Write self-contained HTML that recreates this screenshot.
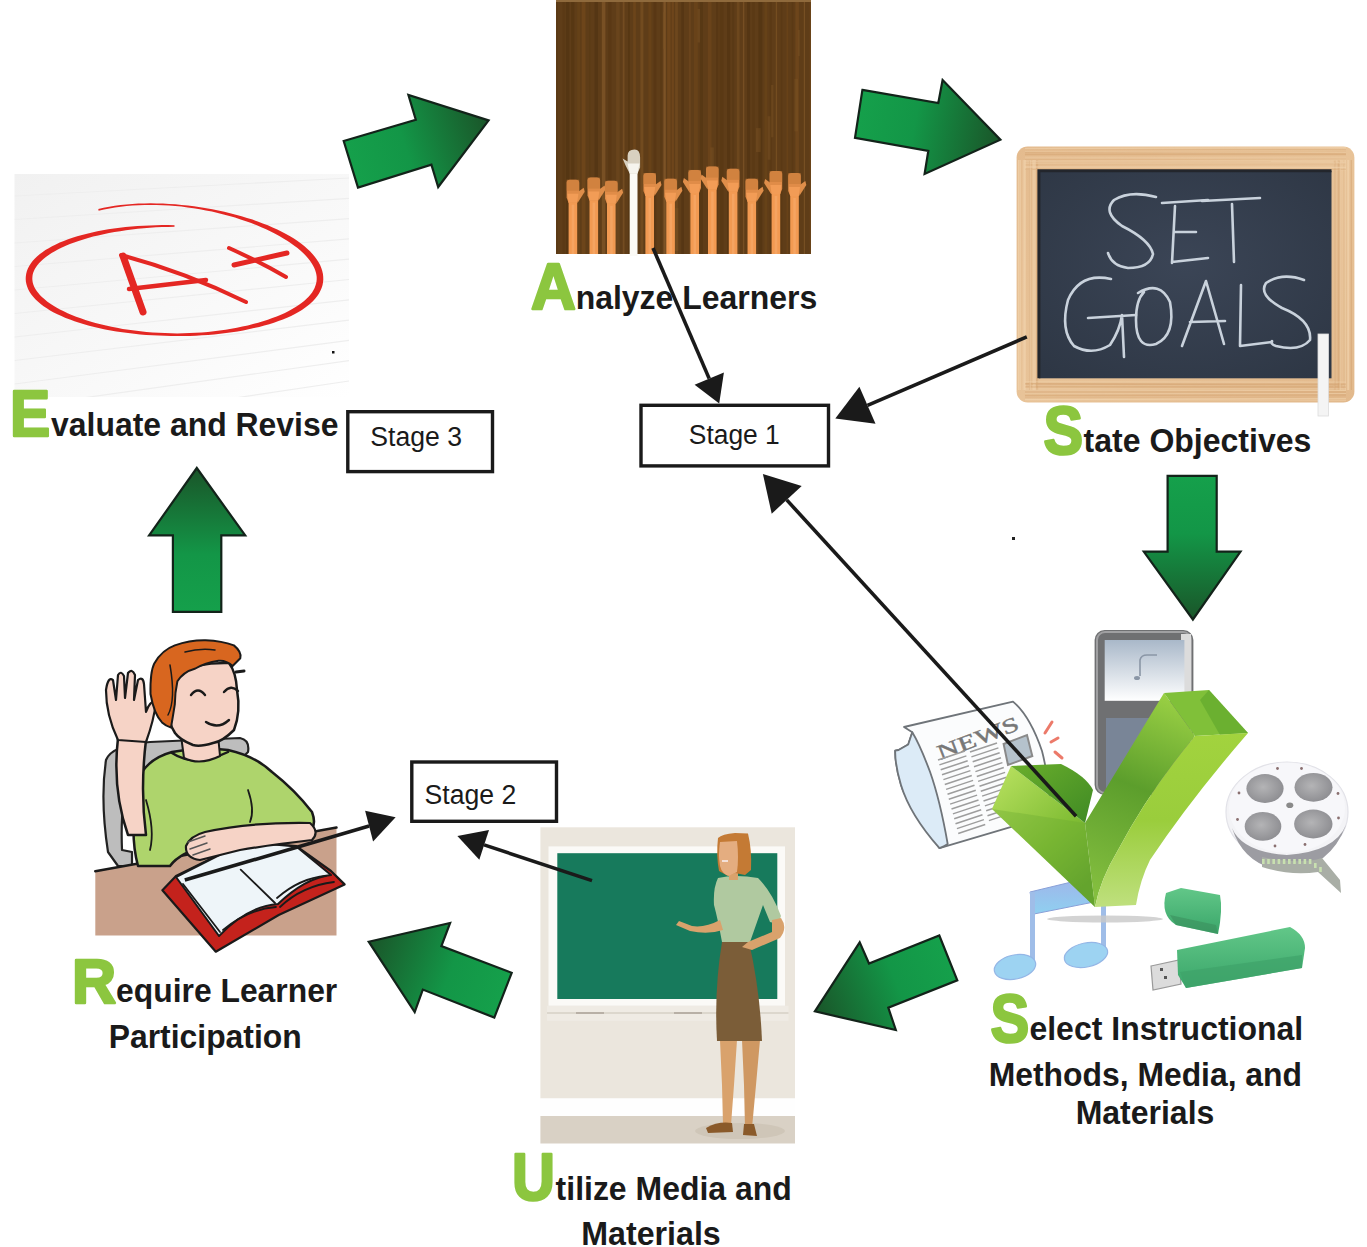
<!DOCTYPE html>
<html><head><meta charset="utf-8"><title>ASSURE Model</title>
<style>
html,body{margin:0;padding:0;background:#fff;}
body{width:1367px;height:1247px;overflow:hidden;position:relative;font-family:"Liberation Sans",sans-serif;}
svg{position:absolute;left:0;top:0;}
</style></head><body>
<svg width="1367" height="1247" viewBox="0 0 1367 1247">
<defs>

<linearGradient id="g1" gradientUnits="userSpaceOnUse" x1="350" y1="165" x2="488" y2="120"><stop offset="0" stop-color="#15a04b"/><stop offset="0.4" stop-color="#139647"/><stop offset="1" stop-color="#1a5529"/></linearGradient>
<linearGradient id="g2" gradientUnits="userSpaceOnUse" x1="858" y1="114" x2="1000" y2="140"><stop offset="0" stop-color="#15a04b"/><stop offset="0.4" stop-color="#139647"/><stop offset="1" stop-color="#1a5529"/></linearGradient>
<linearGradient id="g3" gradientUnits="userSpaceOnUse" x1="1192" y1="476" x2="1192" y2="620"><stop offset="0" stop-color="#15a04b"/><stop offset="0.4" stop-color="#139647"/><stop offset="1" stop-color="#1a5529"/></linearGradient>
<linearGradient id="g4" gradientUnits="userSpaceOnUse" x1="948" y1="958" x2="815" y2="1011"><stop offset="0" stop-color="#15a04b"/><stop offset="0.4" stop-color="#139647"/><stop offset="1" stop-color="#1a5529"/></linearGradient>
<linearGradient id="g5" gradientUnits="userSpaceOnUse" x1="503" y1="995" x2="369" y2="942"><stop offset="0" stop-color="#15a04b"/><stop offset="0.4" stop-color="#139647"/><stop offset="1" stop-color="#1a5529"/></linearGradient>
<linearGradient id="g6" gradientUnits="userSpaceOnUse" x1="197" y1="612" x2="197" y2="468"><stop offset="0" stop-color="#15a04b"/><stop offset="0.4" stop-color="#139647"/><stop offset="1" stop-color="#1a5529"/></linearGradient>
<linearGradient id="paper" x1="0" y1="0" x2="1" y2="1"><stop offset="0" stop-color="#f1f1f1"/><stop offset="0.6" stop-color="#f9f9f9"/><stop offset="1" stop-color="#ffffff"/></linearGradient>
<linearGradient id="wood" x1="0" y1="0" x2="1" y2="1"><stop offset="0" stop-color="#e4bb8e"/><stop offset="0.5" stop-color="#e8c398"/><stop offset="1" stop-color="#e2b98c"/></linearGradient>
<radialGradient id="slate" cx="0.5" cy="0.45" r="0.7"><stop offset="0" stop-color="#3b4556"/><stop offset="1" stop-color="#2e3745"/></radialGradient>
<linearGradient id="chkL" gradientUnits="userSpaceOnUse" x1="1000" y1="775" x2="1090" y2="880"><stop offset="0" stop-color="#b4de5c"/><stop offset="0.6" stop-color="#80bd34"/><stop offset="1" stop-color="#62a22c"/></linearGradient>
<linearGradient id="chkR" x1="0" y1="0" x2="0" y2="1"><stop offset="0" stop-color="#a2d33e"/><stop offset="0.5" stop-color="#9acd3c"/><stop offset="1" stop-color="#bfe07e"/></linearGradient>
<linearGradient id="chkD" x1="0" y1="0" x2="1" y2="1"><stop offset="0" stop-color="#6aae2c"/><stop offset="1" stop-color="#3f8a24"/></linearGradient>
<linearGradient id="ipodScr" x1="0" y1="0" x2="0" y2="1"><stop offset="0" stop-color="#a9b8c9"/><stop offset="1" stop-color="#ffffff"/></linearGradient>
<linearGradient id="usb" x1="0" y1="0" x2="0" y2="1"><stop offset="0" stop-color="#62c788"/><stop offset="1" stop-color="#3aa66a"/></linearGradient>
<linearGradient id="note" x1="0" y1="0" x2="0" y2="1"><stop offset="0" stop-color="#9fb5ea"/><stop offset="1" stop-color="#8fd0f0"/></linearGradient>
<radialGradient id="reelHole" cx="0.45" cy="0.45" r="0.6"><stop offset="0" stop-color="#b4b4b6"/><stop offset="1" stop-color="#8c8c90"/></radialGradient>
</defs>
<rect width="1367" height="1247" fill="#fff"/>

<g id="paper">
<clipPath id="pclip"><rect x="14.5" y="174" width="334.5" height="223"/></clipPath>
<rect x="14.5" y="174" width="334.5" height="223" fill="url(#paper)"/>
<g clip-path="url(#pclip)">
<line x1="14.5" y1="196.0" x2="349" y2="178.0" stroke="#eeeeee" stroke-width="1.2"/>
<line x1="14.5" y1="219.5" x2="349" y2="198.3" stroke="#eeeeee" stroke-width="1.2"/>
<line x1="14.5" y1="243.0" x2="349" y2="218.6" stroke="#eeeeee" stroke-width="1.2"/>
<line x1="14.5" y1="266.5" x2="349" y2="238.9" stroke="#eeeeee" stroke-width="1.2"/>
<line x1="14.5" y1="290.0" x2="349" y2="259.2" stroke="#eeeeee" stroke-width="1.2"/>
<line x1="14.5" y1="313.5" x2="349" y2="279.5" stroke="#eeeeee" stroke-width="1.2"/>
<line x1="14.5" y1="337.0" x2="349" y2="299.8" stroke="#eeeeee" stroke-width="1.2"/>
<line x1="14.5" y1="360.5" x2="349" y2="320.1" stroke="#eeeeee" stroke-width="1.2"/>
<line x1="14.5" y1="384.0" x2="349" y2="340.4" stroke="#eeeeee" stroke-width="1.2"/>
<line x1="14.5" y1="407.5" x2="349" y2="360.7" stroke="#eeeeee" stroke-width="1.2"/>
<line x1="14.5" y1="431.0" x2="349" y2="381.0" stroke="#eeeeee" stroke-width="1.2"/>
</g>
<polygon points="174.5,225.2 168.3,225.1 162.1,225.1 155.9,225.2 149.7,225.4 143.6,225.7 137.5,226.0 131.5,226.5 125.5,227.0 119.7,227.7 113.9,228.4 108.3,229.3 102.8,230.3 97.4,231.3 92.1,232.4 87.0,233.7 82.0,235.0 77.2,236.3 72.5,237.8 68.1,239.3 63.8,240.9 59.7,242.6 55.8,244.4 52.1,246.2 48.7,248.2 45.4,250.1 42.4,252.2 39.6,254.3 37.0,256.5 34.7,258.8 32.6,261.1 30.8,263.5 29.2,266.0 27.9,268.5 26.9,271.1 26.2,273.7 25.8,276.4 25.7,279.1 25.9,281.8 26.5,284.5 27.3,287.1 28.4,289.7 29.8,292.2 31.5,294.7 33.4,297.1 35.6,299.5 38.1,301.8 40.7,304.0 43.6,306.2 46.8,308.3 50.1,310.4 53.7,312.4 57.4,314.3 61.4,316.1 65.6,317.9 70.0,319.6 74.5,321.2 79.2,322.8 84.1,324.3 89.1,325.7 94.3,327.0 99.7,328.2 105.1,329.4 110.7,330.4 116.4,331.4 122.2,332.3 128.1,333.1 134.1,333.8 140.1,334.4 146.2,334.9 152.4,335.3 158.5,335.6 164.8,335.8 171.0,335.9 177.2,336.0 183.5,336.0 189.7,335.9 195.9,335.7 202.0,335.3 208.1,334.9 214.2,334.5 220.2,333.8 226.1,333.1 231.9,332.3 237.6,331.4 243.2,330.4 248.6,329.3 254.0,328.1 259.2,326.9 264.3,325.6 269.2,324.2 273.9,322.7 278.5,321.1 282.9,319.4 287.1,317.7 291.1,315.9 294.9,314.0 298.5,312.0 301.9,310.0 305.0,307.8 308.0,305.6 310.7,303.3 313.1,301.0 315.3,298.5 317.3,296.0 319.0,293.4 320.4,290.8 321.6,288.0 322.5,285.2 323.0,282.4 323.3,279.5 323.2,276.6 322.9,273.7 322.2,270.8 321.3,267.9 320.1,265.0 318.6,262.2 316.8,259.4 314.8,256.7 312.5,254.0 310.0,251.3 307.2,248.7 304.2,246.1 301.0,243.6 297.6,241.1 293.9,238.6 290.1,236.3 286.0,233.9 281.7,231.7 277.3,229.5 272.6,227.4 267.8,225.3 262.8,223.4 257.7,221.5 252.5,219.6 247.0,217.9 241.5,216.2 235.9,214.7 230.1,213.2 224.3,211.8 218.3,210.5 212.3,209.3 206.3,208.2 200.1,207.2 194.0,206.3 187.8,205.5 181.6,204.9 175.3,204.3 169.1,203.9 162.9,203.6 156.7,203.4 150.5,203.3 144.4,203.4 138.3,203.6 132.3,203.9 126.4,204.4 120.5,205.1 114.8,205.8 109.2,206.8 103.6,207.8 98.3,209.1 98.6,210.7 104.0,209.5 109.5,208.4 115.0,207.5 120.7,206.7 126.5,206.1 132.4,205.6 138.4,205.2 144.4,205.0 150.5,204.9 156.6,205.0 162.8,205.2 169.0,205.5 175.2,206.0 181.4,206.6 187.6,207.4 193.7,208.2 199.8,209.2 205.9,210.4 211.9,211.6 217.8,212.9 223.6,214.4 229.4,216.0 235.0,217.6 240.6,219.4 246.0,221.2 251.2,223.1 256.3,225.1 261.3,227.2 266.1,229.3 270.7,231.6 275.1,233.8 279.3,236.1 283.4,238.5 287.2,240.8 290.9,243.2 294.3,245.7 297.5,248.1 300.4,250.6 303.1,253.1 305.6,255.6 307.8,258.1 309.8,260.5 311.5,263.0 313.0,265.4 314.2,267.8 315.2,270.2 315.9,272.5 316.4,274.8 316.7,277.0 316.7,279.3 316.5,281.5 316.1,283.6 315.4,285.8 314.6,288.0 313.4,290.2 312.1,292.4 310.5,294.5 308.6,296.7 306.5,298.8 304.1,301.0 301.5,303.0 298.7,305.1 295.6,307.1 292.2,309.1 288.7,311.0 284.9,312.9 280.9,314.7 276.7,316.4 272.3,318.1 267.8,319.7 263.0,321.2 258.1,322.7 253.0,324.1 247.8,325.4 242.4,326.6 236.9,327.7 231.3,328.7 225.6,329.7 219.7,330.5 213.8,331.3 207.9,331.9 201.8,332.4 195.7,332.8 189.6,333.1 183.4,333.3 177.2,333.4 171.0,333.3 164.9,333.1 158.7,332.8 152.6,332.4 146.5,331.9 140.4,331.3 134.5,330.6 128.6,329.8 122.7,328.9 117.0,327.8 111.4,326.7 106.0,325.6 100.6,324.3 95.4,322.9 90.3,321.5 85.4,319.9 80.7,318.3 76.1,316.7 71.8,315.0 67.6,313.2 63.7,311.3 59.9,309.4 56.4,307.5 53.1,305.5 50.0,303.5 47.1,301.4 44.6,299.3 42.2,297.3 40.1,295.2 38.3,293.1 36.7,291.0 35.4,288.9 34.3,286.9 33.4,284.8 32.8,282.8 32.5,280.9 32.3,278.9 32.4,277.0 32.6,275.0 33.1,273.1 33.9,271.1 34.8,269.1 36.1,267.1 37.5,265.1 39.2,263.0 41.2,261.0 43.4,259.0 45.9,257.0 48.7,255.0 51.6,253.1 54.8,251.2 58.3,249.3 61.9,247.5 65.8,245.8 69.9,244.1 74.2,242.4 78.6,240.9 83.3,239.4 88.1,238.0 93.1,236.6 98.2,235.4 103.5,234.2 109.0,233.1 114.5,232.1 120.2,231.2 126.0,230.3 131.8,229.5 137.7,228.8 143.8,228.2 149.8,227.7 155.9,227.3 162.1,227.0 168.3,226.9 174.5,226.8" fill="#e42723"/>
<g stroke="#e42723" stroke-linecap="round" fill="none">
<path d="M123 256 L143 312" stroke-width="7"/>
<path d="M121 255 Q185 272 246 302" stroke-width="4"/>
<path d="M129 289 L206 280" stroke-width="4.5"/>
<path d="M234 265 L287 253" stroke-width="5"/>
<path d="M229 248 Q260 262 286 277" stroke-width="4"/>
</g>
<rect x="332" y="351" width="2.5" height="2.5" fill="#111"/>
</g>
<g id="hands"><rect x="556" y="0" width="255" height="254" fill="#5f3d18"/>
<rect x="556.0" y="0" width="1.7" height="254" fill="#553512" opacity="0.41"/>
<rect x="562.4" y="0" width="2.4" height="254" fill="#553512" opacity="0.38"/>
<rect x="565.9" y="0" width="3.5" height="254" fill="#4f3211" opacity="0.60"/>
<rect x="571.1" y="0" width="3.2" height="254" fill="#553512" opacity="0.73"/>
<rect x="577.2" y="0" width="2.9" height="254" fill="#6d4619" opacity="0.45"/>
<rect x="581.7" y="0" width="3.8" height="254" fill="#74491c" opacity="0.68"/>
<rect x="589.2" y="0" width="1.2" height="254" fill="#553512" opacity="0.37"/>
<rect x="594.5" y="0" width="3.5" height="254" fill="#4f3211" opacity="0.56"/>
<rect x="601.8" y="0" width="3.6" height="254" fill="#83592a" opacity="0.70"/>
<rect x="608.2" y="0" width="3.2" height="254" fill="#553512" opacity="0.55"/>
<rect x="616.1" y="0" width="3.6" height="254" fill="#7a5122" opacity="0.37"/>
<rect x="622.7" y="0" width="1.8" height="254" fill="#83592a" opacity="0.55"/>
<rect x="628.0" y="0" width="1.9" height="254" fill="#553512" opacity="0.73"/>
<rect x="633.2" y="0" width="2.6" height="254" fill="#74491c" opacity="0.61"/>
<rect x="640.4" y="0" width="3.0" height="254" fill="#7a5122" opacity="0.74"/>
<rect x="648.4" y="0" width="3.0" height="254" fill="#6d4619" opacity="0.66"/>
<rect x="653.7" y="0" width="2.6" height="254" fill="#553512" opacity="0.61"/>
<rect x="660.2" y="0" width="1.6" height="254" fill="#553512" opacity="0.47"/>
<rect x="663.4" y="0" width="2.4" height="254" fill="#83592a" opacity="0.80"/>
<rect x="667.2" y="0" width="3.4" height="254" fill="#74491c" opacity="0.75"/>
<rect x="671.6" y="0" width="2.3" height="254" fill="#74491c" opacity="0.74"/>
<rect x="675.1" y="0" width="2.8" height="254" fill="#7a5122" opacity="0.52"/>
<rect x="681.3" y="0" width="2.7" height="254" fill="#4f3211" opacity="0.58"/>
<rect x="688.9" y="0" width="1.9" height="254" fill="#7a5122" opacity="0.40"/>
<rect x="694.0" y="0" width="3.8" height="254" fill="#74491c" opacity="0.48"/>
<rect x="699.9" y="0" width="3.1" height="254" fill="#4f3211" opacity="0.49"/>
<rect x="707.8" y="0" width="3.7" height="254" fill="#74491c" opacity="0.52"/>
<rect x="716.0" y="0" width="2.2" height="254" fill="#553512" opacity="0.66"/>
<rect x="719.6" y="0" width="3.9" height="254" fill="#553512" opacity="0.47"/>
<rect x="727.0" y="0" width="3.1" height="254" fill="#4f3211" opacity="0.55"/>
<rect x="732.2" y="0" width="1.9" height="254" fill="#4f3211" opacity="0.36"/>
<rect x="736.8" y="0" width="2.7" height="254" fill="#7a5122" opacity="0.52"/>
<rect x="742.9" y="0" width="1.4" height="254" fill="#83592a" opacity="0.63"/>
<rect x="747.1" y="0" width="3.0" height="254" fill="#4f3211" opacity="0.62"/>
<rect x="752.3" y="0" width="2.5" height="254" fill="#553512" opacity="0.38"/>
<rect x="758.4" y="0" width="3.9" height="254" fill="#4f3211" opacity="0.63"/>
<rect x="764.5" y="0" width="2.8" height="254" fill="#6d4619" opacity="0.51"/>
<rect x="769.6" y="0" width="2.1" height="254" fill="#553512" opacity="0.47"/>
<rect x="775.8" y="0" width="1.3" height="254" fill="#7a5122" opacity="0.79"/>
<rect x="780.9" y="0" width="1.4" height="254" fill="#553512" opacity="0.45"/>
<rect x="786.5" y="0" width="1.7" height="254" fill="#6d4619" opacity="0.66"/>
<rect x="791.8" y="0" width="1.3" height="254" fill="#553512" opacity="0.49"/>
<rect x="795.4" y="0" width="3.5" height="254" fill="#74491c" opacity="0.71"/>
<rect x="803.8" y="0" width="1.2" height="254" fill="#83592a" opacity="0.64"/>
<rect x="809.6" y="0" width="1.4" height="254" fill="#6d4619" opacity="0.70"/>
<rect x="794.4" y="78.8" width="3.7" height="52.6" fill="#7b5224" opacity="0.45"/>
<rect x="771.1" y="85.0" width="2.3" height="52.3" fill="#7b5224" opacity="0.45"/>
<rect x="710.2" y="147.4" width="3.6" height="34.0" fill="#7b5224" opacity="0.45"/>
<rect x="767.6" y="116.2" width="2.9" height="43.5" fill="#7b5224" opacity="0.45"/>
<rect x="697.5" y="8.9" width="2.6" height="33.6" fill="#7b5224" opacity="0.45"/>
<rect x="674.9" y="208.1" width="3.5" height="43.0" fill="#7b5224" opacity="0.45"/>
<rect x="695.2" y="246.4" width="2.1" height="7.6" fill="#7b5224" opacity="0.45"/>
<rect x="669.7" y="188.3" width="4.9" height="48.7" fill="#7b5224" opacity="0.45"/>
<rect x="691.4" y="222.4" width="4.6" height="31.6" fill="#7b5224" opacity="0.45"/>
<rect x="797.8" y="30.0" width="2.1" height="26.0" fill="#7b5224" opacity="0.45"/>
<rect x="755.9" y="128.1" width="4.7" height="23.9" fill="#7b5224" opacity="0.45"/>
<rect x="663.0" y="12.3" width="2.4" height="36.6" fill="#7b5224" opacity="0.45"/>
<rect x="556" y="0" width="255" height="2" fill="#8f6a3c"/>
<rect x="568.6" y="199.7" width="8.6" height="54.3" fill="#f29a52"/>
<rect x="571.7" y="204.7" width="2.6" height="49.3" fill="#f7ab6c" opacity="0.6"/>
<path d="M566.6 182.7 Q566.6 179.7 569.9 179.7 L575.9 179.7 Q579.2 179.7 579.2 182.7 L579.2 197.7 L577.2 202.7 L568.6 202.7 L566.6 197.7 Z" fill="#e08c48"/>
<path d="M578.2 191.7 L583.7 187.7 L584.7 191.7 L577.7 202.7 Z" fill="#df8e4a"/>
<path d="M566.6 179.7 L579.2 179.7 L579.2 190.7 L566.6 190.7 Z" fill="#c47a38" opacity="0.55"/>
<path d="M567.4 193.7 L578.4 193.7 L577.2 202.7 L568.6 202.7 Z" fill="#f29c56"/>
<rect x="589.5" y="197.6" width="8.6" height="56.4" fill="#f29a52"/>
<rect x="592.6" y="202.6" width="2.6" height="51.4" fill="#f7ab6c" opacity="0.6"/>
<path d="M587.5 180.6 Q587.5 177.6 590.8 177.6 L596.8 177.6 Q600.1 177.6 600.1 180.6 L600.1 195.6 L598.1 200.6 L589.5 200.6 L587.5 195.6 Z" fill="#e08c48"/>
<path d="M599.1 189.6 L604.6 185.6 L605.6 189.6 L598.6 200.6 Z" fill="#df8e4a"/>
<path d="M587.5 177.6 L600.1 177.6 L600.1 188.6 L587.5 188.6 Z" fill="#c47a38" opacity="0.55"/>
<path d="M588.3 191.6 L599.3 191.6 L598.1 200.6 L589.5 200.6 Z" fill="#f29c56"/>
<rect x="607.0" y="200.8" width="8.6" height="53.2" fill="#f29a52"/>
<rect x="610.1" y="205.8" width="2.6" height="48.2" fill="#f7ab6c" opacity="0.6"/>
<path d="M605.0 183.8 Q605.0 180.8 608.3 180.8 L614.3 180.8 Q617.6 180.8 617.6 183.8 L617.6 198.8 L615.6 203.8 L607.0 203.8 L605.0 198.8 Z" fill="#e08c48"/>
<path d="M616.6 192.8 L622.1 188.8 L623.1 192.8 L616.1 203.8 Z" fill="#df8e4a"/>
<path d="M605.0 180.8 L617.6 180.8 L617.6 191.8 L605.0 191.8 Z" fill="#c47a38" opacity="0.55"/>
<path d="M605.8 194.8 L616.8 194.8 L615.6 203.8 L607.0 203.8 Z" fill="#f29c56"/>
<rect x="645.4" y="193.0" width="8.6" height="61.0" fill="#f29a52"/>
<rect x="648.5" y="198.0" width="2.6" height="56.0" fill="#f7ab6c" opacity="0.6"/>
<path d="M643.4 176.0 Q643.4 173.0 646.7 173.0 L652.7 173.0 Q656.0 173.0 656.0 176.0 L656.0 191.0 L654.0 196.0 L645.4 196.0 L643.4 191.0 Z" fill="#e08c48"/>
<path d="M655.0 185.0 L660.5 181.0 L661.5 185.0 L654.5 196.0 Z" fill="#df8e4a"/>
<path d="M643.4 173.0 L656.0 173.0 L656.0 184.0 L643.4 184.0 Z" fill="#c47a38" opacity="0.55"/>
<path d="M644.2 187.0 L655.2 187.0 L654.0 196.0 L645.4 196.0 Z" fill="#f29c56"/>
<rect x="666.3" y="198.7" width="8.6" height="55.3" fill="#f29a52"/>
<rect x="669.4" y="203.7" width="2.6" height="50.3" fill="#f7ab6c" opacity="0.6"/>
<path d="M664.3 181.7 Q664.3 178.7 667.6 178.7 L673.6 178.7 Q676.9 178.7 676.9 181.7 L676.9 196.7 L674.9 201.7 L666.3 201.7 L664.3 196.7 Z" fill="#e08c48"/>
<path d="M675.9 190.7 L681.4 186.7 L682.4 190.7 L675.4 201.7 Z" fill="#df8e4a"/>
<path d="M664.3 178.7 L676.9 178.7 L676.9 189.7 L664.3 189.7 Z" fill="#c47a38" opacity="0.55"/>
<path d="M665.1 192.7 L676.1 192.7 L674.9 201.7 L666.3 201.7 Z" fill="#f29c56"/>
<rect x="690.4" y="189.9" width="8.6" height="64.1" fill="#f29a52"/>
<rect x="693.5" y="194.9" width="2.6" height="59.1" fill="#f7ab6c" opacity="0.6"/>
<path d="M688.4 172.9 Q688.4 169.9 691.7 169.9 L697.7 169.9 Q701.0 169.9 701.0 172.9 L701.0 187.9 L699.0 192.9 L690.4 192.9 L688.4 187.9 Z" fill="#e08c48"/>
<path d="M689.4 181.9 L683.9 177.9 L682.9 181.9 L689.9 192.9 Z" fill="#df8e4a"/>
<path d="M688.4 169.9 L701.0 169.9 L701.0 180.9 L688.4 180.9 Z" fill="#c47a38" opacity="0.55"/>
<path d="M689.2 183.9 L700.2 183.9 L699.0 192.9 L690.4 192.9 Z" fill="#f29c56"/>
<rect x="708.0" y="186.6" width="8.6" height="67.4" fill="#f29a52"/>
<rect x="711.1" y="191.6" width="2.6" height="62.4" fill="#f7ab6c" opacity="0.6"/>
<path d="M706.0 169.6 Q706.0 166.6 709.3 166.6 L715.3 166.6 Q718.6 166.6 718.6 169.6 L718.6 184.6 L716.6 189.6 L708.0 189.6 L706.0 184.6 Z" fill="#e08c48"/>
<path d="M707.0 178.6 L701.5 174.6 L700.5 178.6 L707.5 189.6 Z" fill="#df8e4a"/>
<path d="M706.0 166.6 L718.6 166.6 L718.6 177.6 L706.0 177.6 Z" fill="#c47a38" opacity="0.55"/>
<path d="M706.8 180.6 L717.8 180.6 L716.6 189.6 L708.0 189.6 Z" fill="#f29c56"/>
<rect x="728.8" y="188.8" width="8.6" height="65.2" fill="#f29a52"/>
<rect x="731.9" y="193.8" width="2.6" height="60.2" fill="#f7ab6c" opacity="0.6"/>
<path d="M726.8 171.8 Q726.8 168.8 730.1 168.8 L736.1 168.8 Q739.4 168.8 739.4 171.8 L739.4 186.8 L737.4 191.8 L728.8 191.8 L726.8 186.8 Z" fill="#e08c48"/>
<path d="M727.8 180.8 L722.3 176.8 L721.3 180.8 L728.3 191.8 Z" fill="#df8e4a"/>
<path d="M726.8 168.8 L739.4 168.8 L739.4 179.8 L726.8 179.8 Z" fill="#c47a38" opacity="0.55"/>
<path d="M727.6 182.8 L738.6 182.8 L737.4 191.8 L728.8 191.8 Z" fill="#f29c56"/>
<rect x="747.5" y="198.7" width="8.6" height="55.3" fill="#f29a52"/>
<rect x="750.6" y="203.7" width="2.6" height="50.3" fill="#f7ab6c" opacity="0.6"/>
<path d="M745.5 181.7 Q745.5 178.7 748.8 178.7 L754.8 178.7 Q758.1 178.7 758.1 181.7 L758.1 196.7 L756.1 201.7 L747.5 201.7 L745.5 196.7 Z" fill="#e08c48"/>
<path d="M757.1 190.7 L762.6 186.7 L763.6 190.7 L756.6 201.7 Z" fill="#df8e4a"/>
<path d="M745.5 178.7 L758.1 178.7 L758.1 189.7 L745.5 189.7 Z" fill="#c47a38" opacity="0.55"/>
<path d="M746.3 192.7 L757.3 192.7 L756.1 201.7 L747.5 201.7 Z" fill="#f29c56"/>
<rect x="771.6" y="191.0" width="8.6" height="63.0" fill="#f29a52"/>
<rect x="774.7" y="196.0" width="2.6" height="58.0" fill="#f7ab6c" opacity="0.6"/>
<path d="M769.6 174.0 Q769.6 171.0 772.9 171.0 L778.9 171.0 Q782.2 171.0 782.2 174.0 L782.2 189.0 L780.2 194.0 L771.6 194.0 L769.6 189.0 Z" fill="#e08c48"/>
<path d="M770.6 183.0 L765.1 179.0 L764.1 183.0 L771.1 194.0 Z" fill="#df8e4a"/>
<path d="M769.6 171.0 L782.2 171.0 L782.2 182.0 L769.6 182.0 Z" fill="#c47a38" opacity="0.55"/>
<path d="M770.4 185.0 L781.4 185.0 L780.2 194.0 L771.6 194.0 Z" fill="#f29c56"/>
<rect x="790.2" y="193.0" width="8.6" height="61.0" fill="#f29a52"/>
<rect x="793.3" y="198.0" width="2.6" height="56.0" fill="#f7ab6c" opacity="0.6"/>
<path d="M788.2 176.0 Q788.2 173.0 791.5 173.0 L797.5 173.0 Q800.8 173.0 800.8 176.0 L800.8 191.0 L798.8 196.0 L790.2 196.0 L788.2 191.0 Z" fill="#e08c48"/>
<path d="M799.8 185.0 L805.3 181.0 L806.3 185.0 L799.3 196.0 Z" fill="#df8e4a"/>
<path d="M788.2 173.0 L800.8 173.0 L800.8 184.0 L788.2 184.0 Z" fill="#c47a38" opacity="0.55"/>
<path d="M789.0 187.0 L800.0 187.0 L798.8 196.0 L790.2 196.0 Z" fill="#f29c56"/>
<rect x="629.7" y="167.5" width="7.8" height="88.5" fill="#fbfaf6"/>
<path d="M627.6 155.5 Q627.6 149.5 634.6 149.5 Q640.1 149.5 640.1 157.5 L640.1 167.5 L637.5 173.5 L629.7 173.5 L625.6 165.5 L622.6 158.5 L627.6 161.5 Z" fill="#d8d0c0"/>
<path d="M627.6 163.5 L639.6 163.5 L637.5 173.5 L629.7 173.5 Z" fill="#f6f4ee"/>
</g>
<g id="chalk">
<rect x="1016.6" y="146.6" width="337.8" height="255.9" rx="11" fill="url(#wood)"/>
<line x1="1025" y1="161.7" x2="1346" y2="162.2" stroke="#d6a674" stroke-width="1.3" opacity="0.6"/>
<line x1="1025" y1="395.5" x2="1346" y2="395.0" stroke="#d6a674" stroke-width="1.4" opacity="0.6"/>
<line x1="1020.3" y1="160" x2="1020.3" y2="390" stroke="#f2d4ae" stroke-width="1.4" opacity="0.5"/>
<line x1="1339.6" y1="160" x2="1339.6" y2="390" stroke="#d6a674" stroke-width="1.1" opacity="0.5"/>
<line x1="1025" y1="148.3" x2="1346" y2="147.7" stroke="#f2d4ae" stroke-width="0.7" opacity="0.6"/>
<line x1="1025" y1="397.3" x2="1346" y2="397.1" stroke="#d6a674" stroke-width="0.6" opacity="0.6"/>
<line x1="1030.3" y1="160" x2="1030.3" y2="390" stroke="#d6a674" stroke-width="0.6" opacity="0.5"/>
<line x1="1351.4" y1="160" x2="1351.4" y2="390" stroke="#d6a674" stroke-width="0.7" opacity="0.5"/>
<line x1="1025" y1="152.7" x2="1346" y2="153.7" stroke="#d6a674" stroke-width="0.8" opacity="0.6"/>
<line x1="1025" y1="399.2" x2="1346" y2="399.3" stroke="#d6a674" stroke-width="0.7" opacity="0.6"/>
<line x1="1037.4" y1="160" x2="1037.4" y2="390" stroke="#d6a674" stroke-width="1.5" opacity="0.5"/>
<line x1="1349.9" y1="160" x2="1349.9" y2="390" stroke="#f2d4ae" stroke-width="0.5" opacity="0.5"/>
<line x1="1025" y1="157.1" x2="1346" y2="158.0" stroke="#f2d4ae" stroke-width="0.6" opacity="0.6"/>
<line x1="1025" y1="386.0" x2="1346" y2="386.2" stroke="#d6a674" stroke-width="1.1" opacity="0.6"/>
<line x1="1032.2" y1="160" x2="1032.2" y2="390" stroke="#d6a674" stroke-width="0.8" opacity="0.5"/>
<line x1="1348.4" y1="160" x2="1348.4" y2="390" stroke="#f2d4ae" stroke-width="1.2" opacity="0.5"/>
<line x1="1025" y1="152.1" x2="1346" y2="152.0" stroke="#d6a674" stroke-width="0.6" opacity="0.6"/>
<line x1="1025" y1="399.5" x2="1346" y2="398.5" stroke="#f2d4ae" stroke-width="1.3" opacity="0.6"/>
<line x1="1018.4" y1="160" x2="1018.4" y2="390" stroke="#f2d4ae" stroke-width="0.9" opacity="0.5"/>
<line x1="1343.6" y1="160" x2="1343.6" y2="390" stroke="#d6a674" stroke-width="1.0" opacity="0.5"/>
<line x1="1025" y1="163.6" x2="1346" y2="163.8" stroke="#d6a674" stroke-width="0.6" opacity="0.6"/>
<line x1="1025" y1="384.9" x2="1346" y2="385.6" stroke="#f2d4ae" stroke-width="0.8" opacity="0.6"/>
<line x1="1025.1" y1="160" x2="1025.1" y2="390" stroke="#f2d4ae" stroke-width="1.3" opacity="0.5"/>
<line x1="1334.2" y1="160" x2="1334.2" y2="390" stroke="#f2d4ae" stroke-width="1.4" opacity="0.5"/>
<line x1="1025" y1="148.8" x2="1346" y2="149.7" stroke="#d6a674" stroke-width="0.7" opacity="0.6"/>
<line x1="1025" y1="390.3" x2="1346" y2="390.0" stroke="#d6a674" stroke-width="0.8" opacity="0.6"/>
<line x1="1036.5" y1="160" x2="1036.5" y2="390" stroke="#d6a674" stroke-width="0.8" opacity="0.5"/>
<line x1="1338.3" y1="160" x2="1338.3" y2="390" stroke="#d6a674" stroke-width="1.3" opacity="0.5"/>
<line x1="1025" y1="161.8" x2="1346" y2="162.2" stroke="#f2d4ae" stroke-width="1.5" opacity="0.6"/>
<line x1="1025" y1="383.2" x2="1346" y2="382.3" stroke="#f2d4ae" stroke-width="0.5" opacity="0.6"/>
<line x1="1032.8" y1="160" x2="1032.8" y2="390" stroke="#f2d4ae" stroke-width="1.3" opacity="0.5"/>
<line x1="1341.1" y1="160" x2="1341.1" y2="390" stroke="#f2d4ae" stroke-width="0.6" opacity="0.5"/>
<line x1="1025" y1="169.5" x2="1346" y2="169.8" stroke="#f2d4ae" stroke-width="0.8" opacity="0.6"/>
<line x1="1025" y1="384.1" x2="1346" y2="385.1" stroke="#d6a674" stroke-width="1.1" opacity="0.6"/>
<line x1="1033.8" y1="160" x2="1033.8" y2="390" stroke="#d6a674" stroke-width="0.7" opacity="0.5"/>
<line x1="1339.5" y1="160" x2="1339.5" y2="390" stroke="#d6a674" stroke-width="1.3" opacity="0.5"/>
<line x1="1025" y1="154.5" x2="1346" y2="154.4" stroke="#d6a674" stroke-width="1.5" opacity="0.6"/>
<line x1="1025" y1="389.1" x2="1346" y2="389.0" stroke="#f2d4ae" stroke-width="1.0" opacity="0.6"/>
<line x1="1023.8" y1="160" x2="1023.8" y2="390" stroke="#f2d4ae" stroke-width="1.4" opacity="0.5"/>
<line x1="1334.3" y1="160" x2="1334.3" y2="390" stroke="#d6a674" stroke-width="1.1" opacity="0.5"/>
<line x1="1025" y1="159.0" x2="1346" y2="158.7" stroke="#d6a674" stroke-width="1.0" opacity="0.6"/>
<line x1="1025" y1="390.3" x2="1346" y2="390.4" stroke="#f2d4ae" stroke-width="0.6" opacity="0.6"/>
<line x1="1033.9" y1="160" x2="1033.9" y2="390" stroke="#f2d4ae" stroke-width="1.2" opacity="0.5"/>
<line x1="1345.3" y1="160" x2="1345.3" y2="390" stroke="#f2d4ae" stroke-width="0.9" opacity="0.5"/>
<line x1="1025" y1="163.5" x2="1346" y2="163.1" stroke="#f2d4ae" stroke-width="0.8" opacity="0.6"/>
<line x1="1025" y1="399.6" x2="1346" y2="400.1" stroke="#f2d4ae" stroke-width="1.1" opacity="0.6"/>
<line x1="1029.6" y1="160" x2="1029.6" y2="390" stroke="#d6a674" stroke-width="1.0" opacity="0.5"/>
<line x1="1347.5" y1="160" x2="1347.5" y2="390" stroke="#f2d4ae" stroke-width="1.2" opacity="0.5"/>
<line x1="1025" y1="158.2" x2="1346" y2="158.8" stroke="#f2d4ae" stroke-width="0.8" opacity="0.6"/>
<line x1="1025" y1="392.9" x2="1346" y2="393.4" stroke="#f2d4ae" stroke-width="0.9" opacity="0.6"/>
<line x1="1034.9" y1="160" x2="1034.9" y2="390" stroke="#f2d4ae" stroke-width="1.5" opacity="0.5"/>
<line x1="1351.1" y1="160" x2="1351.1" y2="390" stroke="#d6a674" stroke-width="1.0" opacity="0.5"/>
<line x1="1025" y1="151.7" x2="1346" y2="152.3" stroke="#f2d4ae" stroke-width="0.8" opacity="0.6"/>
<line x1="1025" y1="381.6" x2="1346" y2="381.9" stroke="#f2d4ae" stroke-width="0.7" opacity="0.6"/>
<line x1="1033.6" y1="160" x2="1033.6" y2="390" stroke="#f2d4ae" stroke-width="0.8" opacity="0.5"/>
<line x1="1343.1" y1="160" x2="1343.1" y2="390" stroke="#f2d4ae" stroke-width="1.2" opacity="0.5"/>
<line x1="1025" y1="148.6" x2="1346" y2="147.9" stroke="#f2d4ae" stroke-width="1.1" opacity="0.6"/>
<line x1="1025" y1="383.6" x2="1346" y2="384.1" stroke="#d6a674" stroke-width="1.1" opacity="0.6"/>
<line x1="1018.8" y1="160" x2="1018.8" y2="390" stroke="#f2d4ae" stroke-width="1.5" opacity="0.5"/>
<line x1="1335.3" y1="160" x2="1335.3" y2="390" stroke="#d6a674" stroke-width="0.6" opacity="0.5"/>
<line x1="1025" y1="169.3" x2="1346" y2="169.3" stroke="#d6a674" stroke-width="0.9" opacity="0.6"/>
<line x1="1025" y1="387.0" x2="1346" y2="387.3" stroke="#d6a674" stroke-width="1.1" opacity="0.6"/>
<line x1="1022.8" y1="160" x2="1022.8" y2="390" stroke="#f2d4ae" stroke-width="0.5" opacity="0.5"/>
<line x1="1340.1" y1="160" x2="1340.1" y2="390" stroke="#f2d4ae" stroke-width="1.4" opacity="0.5"/>
<line x1="1025" y1="167.1" x2="1346" y2="167.4" stroke="#f2d4ae" stroke-width="1.5" opacity="0.6"/>
<line x1="1025" y1="391.0" x2="1346" y2="390.6" stroke="#f2d4ae" stroke-width="1.0" opacity="0.6"/>
<line x1="1024.8" y1="160" x2="1024.8" y2="390" stroke="#f2d4ae" stroke-width="1.5" opacity="0.5"/>
<line x1="1348.4" y1="160" x2="1348.4" y2="390" stroke="#f2d4ae" stroke-width="0.9" opacity="0.5"/>
<line x1="1025" y1="160.4" x2="1346" y2="160.5" stroke="#f2d4ae" stroke-width="0.6" opacity="0.6"/>
<line x1="1025" y1="391.9" x2="1346" y2="392.0" stroke="#d6a674" stroke-width="1.5" opacity="0.6"/>
<line x1="1030.2" y1="160" x2="1030.2" y2="390" stroke="#f2d4ae" stroke-width="1.3" opacity="0.5"/>
<line x1="1345.2" y1="160" x2="1345.2" y2="390" stroke="#f2d4ae" stroke-width="0.6" opacity="0.5"/>
<rect x="1038.9" y="170.8" width="292.6" height="207.5" fill="url(#slate)"/>
<path d="M1038.9 378.3 L1038.9 170.8 L1331.5 170.8" fill="none" stroke="#23262c" stroke-width="3"/>
<g fill="none" stroke="#c9d2dc" stroke-width="2.6" stroke-linecap="round" stroke-linejoin="round">
<path d="M1156 197 Q1130 190 1114 200 Q1102 212 1122 226 Q1150 240 1153 254 Q1150 268 1128 268 Q1112 266 1108 253"/>
<path d="M1175 206 L1172 263 M1162 203 L1208 200 M1174 232 L1196 232 M1172 262 L1208 258"/>
<path d="M1202 201 L1260 198 M1232 204 L1234 262"/>
<path d="M1111 279 Q1080 272 1068 300 Q1060 330 1074 346 Q1092 356 1110 345 Q1120 330 1122 315 L1124 357 M1088 318 L1136 315"/>
<path d="M1138 293 Q1160 280 1170 302 Q1176 335 1156 344 Q1136 350 1136 320 Q1136 300 1144 292"/>
<path d="M1182 346 L1206 281 L1224 344 M1190 322 L1225 321"/>
<path d="M1241 285 L1240 346 L1272 342"/>
<path d="M1304 280 Q1282 272 1266 283 Q1258 295 1282 308 Q1312 320 1310 340 Q1300 352 1276 346 Q1270 344 1272 341"/>
</g>
<rect x="1318" y="334" width="10.5" height="82" fill="#f4f4f4" stroke="#dcdcdc" stroke-width="0.8"/>
</g>
<g id="select">
<rect x="1094.6" y="630" width="98.8" height="165" rx="10" fill="#6f7072"/>
<rect x="1097" y="632" width="94" height="161" rx="8" fill="none" stroke="#a0a0a2" stroke-width="2"/>
<rect x="1181" y="634" width="10" height="60" fill="#dcdcdc"/>
<rect x="1104.7" y="640" width="79.7" height="60.8" fill="url(#ipodScr)"/>
<path d="M1140 676 L1140 660 Q1141 655 1147 655 L1157 655" fill="none" stroke="#8a96a6" stroke-width="1.6"/>
<ellipse cx="1137" cy="678" rx="3" ry="2" fill="#8a96a6"/>
<rect x="1106" y="718" width="60" height="70" fill="#7d8fa6" opacity="0.7"/>
<path d="M904 727 L1013 701.6 Q1030 716 1042 751 Q1047 770 1050 800 L1013 826.4 L939.5 848.2 Q905 800 901 785 Q895 765 895.2 750.7 L898.6 750 L908.2 744.5 L912.3 732.3 Z" fill="#fbfcfd" stroke="#6f7479" stroke-width="1.8" stroke-linejoin="round"/>
<path d="M912.3 732.3 L908.2 744.5 L898.6 750 L895.2 750.7 Q895 765 901 785 Q910 815 939.5 848.2 Q945 846 947.7 844 Q940 800 930 771.8 Q920 745 912.3 732.3 Z" fill="#dcebf7" stroke="#6f7479" stroke-width="1.8" stroke-linejoin="round"/>
<g transform="rotate(-21 975 736)"><text x="934" y="746" font-family="Liberation Serif" font-size="21" fill="#777" stroke="#777" stroke-width="0.4" textLength="86" lengthAdjust="spacingAndGlyphs">NEWS</text></g>
<line x1="938.0" y1="760.0" x2="965.0" y2="751.0" stroke="#9d9d9d" stroke-width="1.5"/>
<line x1="939.4" y1="764.9" x2="966.4" y2="755.9" stroke="#9d9d9d" stroke-width="1.5"/>
<line x1="940.7" y1="769.8" x2="967.7" y2="760.8" stroke="#9d9d9d" stroke-width="1.5"/>
<line x1="942.0" y1="774.7" x2="969.0" y2="765.7" stroke="#9d9d9d" stroke-width="1.5"/>
<line x1="943.4" y1="779.6" x2="970.4" y2="770.6" stroke="#9d9d9d" stroke-width="1.5"/>
<line x1="944.8" y1="784.5" x2="971.8" y2="775.5" stroke="#9d9d9d" stroke-width="1.5"/>
<line x1="946.1" y1="789.4" x2="973.1" y2="780.4" stroke="#9d9d9d" stroke-width="1.5"/>
<line x1="947.5" y1="794.3" x2="974.5" y2="785.3" stroke="#9d9d9d" stroke-width="1.5"/>
<line x1="948.8" y1="799.2" x2="975.8" y2="790.2" stroke="#9d9d9d" stroke-width="1.5"/>
<line x1="950.1" y1="804.1" x2="977.1" y2="795.1" stroke="#9d9d9d" stroke-width="1.5"/>
<line x1="951.5" y1="809.0" x2="978.5" y2="800.0" stroke="#9d9d9d" stroke-width="1.5"/>
<line x1="952.9" y1="813.9" x2="979.9" y2="804.9" stroke="#9d9d9d" stroke-width="1.5"/>
<line x1="954.2" y1="818.8" x2="981.2" y2="809.8" stroke="#9d9d9d" stroke-width="1.5"/>
<line x1="955.5" y1="823.7" x2="982.5" y2="814.7" stroke="#9d9d9d" stroke-width="1.5"/>
<line x1="956.9" y1="828.6" x2="983.9" y2="819.6" stroke="#9d9d9d" stroke-width="1.5"/>
<line x1="958.2" y1="833.5" x2="985.2" y2="824.5" stroke="#9d9d9d" stroke-width="1.5"/>
<line x1="970.0" y1="752.0" x2="997.0" y2="743.0" stroke="#9d9d9d" stroke-width="1.5"/>
<line x1="971.4" y1="756.9" x2="998.4" y2="747.9" stroke="#9d9d9d" stroke-width="1.5"/>
<line x1="972.7" y1="761.8" x2="999.7" y2="752.8" stroke="#9d9d9d" stroke-width="1.5"/>
<line x1="974.0" y1="766.7" x2="1001.0" y2="757.7" stroke="#9d9d9d" stroke-width="1.5"/>
<line x1="975.4" y1="771.6" x2="1002.4" y2="762.6" stroke="#9d9d9d" stroke-width="1.5"/>
<line x1="976.8" y1="776.5" x2="1003.8" y2="767.5" stroke="#9d9d9d" stroke-width="1.5"/>
<line x1="978.1" y1="781.4" x2="1005.1" y2="772.4" stroke="#9d9d9d" stroke-width="1.5"/>
<line x1="979.5" y1="786.3" x2="1006.5" y2="777.3" stroke="#9d9d9d" stroke-width="1.5"/>
<line x1="980.8" y1="791.2" x2="1007.8" y2="782.2" stroke="#9d9d9d" stroke-width="1.5"/>
<line x1="982.1" y1="796.1" x2="1009.1" y2="787.1" stroke="#9d9d9d" stroke-width="1.5"/>
<line x1="983.5" y1="801.0" x2="1010.5" y2="792.0" stroke="#9d9d9d" stroke-width="1.5"/>
<line x1="984.9" y1="805.9" x2="1011.9" y2="796.9" stroke="#9d9d9d" stroke-width="1.5"/>
<line x1="986.2" y1="810.8" x2="1013.2" y2="801.8" stroke="#9d9d9d" stroke-width="1.5"/>
<line x1="987.5" y1="815.7" x2="1014.5" y2="806.7" stroke="#9d9d9d" stroke-width="1.5"/>
<line x1="988.9" y1="820.6" x2="1015.9" y2="811.6" stroke="#9d9d9d" stroke-width="1.5"/>
<path d="M1003.6 744 L1027 735 L1032.3 756 L1008 765 Z" fill="#b5c2cc" stroke="#8a8a8a" stroke-width="2"/>
<line x1="1052" y1="722" x2="1045" y2="733" stroke="#ec7a6a" stroke-width="3" stroke-linecap="round"/>
<line x1="1058" y1="738" x2="1051" y2="742" stroke="#ec7a6a" stroke-width="3" stroke-linecap="round"/>
<line x1="1055" y1="752" x2="1062" y2="758" stroke="#ec7a6a" stroke-width="3" stroke-linecap="round"/>
<ellipse cx="1287" cy="812" rx="61" ry="50" fill="#f3f3f6" stroke="#e2e2e8" stroke-width="1.2"/>
<path d="M1232 828 Q1245 868 1287 870.5 Q1330 868 1346.3 824.6 Q1335 852 1287 855 Q1242 852 1232 828 Z" fill="#9c9ca2"/>
<path d="M1262 857 Q1300 865 1322 858 L1340 880 L1341 893 L1318 872 Q1290 876 1262 867 Z" fill="#a9aea6"/>
<rect x="1262.0" y="859.0" width="2.6" height="5" fill="#c8e0b0"/>
<rect x="1267.2" y="859.0" width="2.6" height="5" fill="#c8e0b0"/>
<rect x="1272.4" y="859.0" width="2.6" height="5" fill="#c8e0b0"/>
<rect x="1277.6" y="859.0" width="2.6" height="5" fill="#c8e0b0"/>
<rect x="1282.8" y="859.0" width="2.6" height="5" fill="#c8e0b0"/>
<rect x="1288.0" y="859.0" width="2.6" height="5" fill="#c8e0b0"/>
<rect x="1293.2" y="859.0" width="2.6" height="5" fill="#c8e0b0"/>
<rect x="1298.4" y="859.0" width="2.6" height="5" fill="#c8e0b0"/>
<rect x="1303.6" y="859.0" width="2.6" height="5" fill="#c8e0b0"/>
<rect x="1308.8" y="859.0" width="2.6" height="5" fill="#c8e0b0"/>
<rect x="1314.0" y="863.0" width="2.6" height="5" fill="#c8e0b0"/>
<rect x="1319.2" y="867.0" width="2.6" height="5" fill="#c8e0b0"/>
<ellipse cx="1287" cy="807.7" rx="58" ry="45" fill="#f7f7fa"/>
<ellipse cx="1265" cy="788.5" rx="18.6" ry="14.4" fill="url(#reelHole)"/>
<ellipse cx="1313.5" cy="787.3" rx="19" ry="14.4" fill="url(#reelHole)"/>
<ellipse cx="1263" cy="826.4" rx="18.3" ry="14.4" fill="url(#reelHole)"/>
<ellipse cx="1313.3" cy="824" rx="19.2" ry="14.4" fill="url(#reelHole)"/>
<ellipse cx="1289.8" cy="805.3" rx="3.5" ry="2.8" fill="#8a8a8a"/>
<circle cx="1277.5" cy="768.5" r="1.4" fill="#8a7070"/>
<circle cx="1301.5" cy="768.5" r="1.4" fill="#8a7070"/>
<circle cx="1239" cy="793" r="1.4" fill="#8a7070"/>
<circle cx="1338" cy="793.5" r="1.4" fill="#8a7070"/>
<circle cx="1237.5" cy="819.5" r="1.4" fill="#8a7070"/>
<circle cx="1338.5" cy="818" r="1.4" fill="#8a7070"/>
<circle cx="1275" cy="846" r="1.4" fill="#8a7070"/>
<circle cx="1305" cy="844.5" r="1.4" fill="#8a7070"/>
<path d="M1030 892 L1088 878 L1094 902 L1034 914 Z" fill="url(#note)" stroke="#8aa0d8" stroke-width="1"/>
<rect x="1030" y="892" width="5" height="76" fill="#9fbde8"/>
<rect x="1101" y="905" width="5" height="52" fill="#9fbde8"/>
<ellipse cx="1015" cy="967" rx="21" ry="12" transform="rotate(-12 1015 967)" fill="#9dd3f2" stroke="#94b6e6" stroke-width="1.2"/>
<ellipse cx="1086" cy="955" rx="22" ry="12" transform="rotate(-12 1086 955)" fill="#9dd3f2" stroke="#94b6e6" stroke-width="1.2"/>
<ellipse cx="1105" cy="919" rx="58" ry="3.5" fill="#c8c8c8" opacity="0.8"/>
<path d="M1166 893 L1181 888 L1220 895 Q1223 910 1218 934 L1176 925 Q1160 915 1166 893 Z" fill="url(#usb)"/>
<path d="M1170 915 L1216 925 L1218 934 L1176 925 Z" fill="#3c8f5e" opacity="0.6"/>
<path d="M1151 966 L1179 960 L1181 984 L1153 990 Z" fill="#dcdcdc" stroke="#9a9a9a" stroke-width="1.2"/>
<rect x="1160" y="968" width="3" height="3" fill="#555"/><rect x="1164" y="976" width="3" height="3" fill="#555"/>
<path d="M1177 950 L1290 927 Q1305 935 1305 948 L1302 968 L1186 988 L1178 975 Z" fill="url(#usb)"/>
<path d="M1180 972 L1302 955 L1302 968 L1186 988 Z" fill="#3ea26a" opacity="0.7"/>
<path d="M992 809 L1011 766 L1085 823 L1095 907 Z" fill="url(#chkL)"/>
<path d="M1011 766 L1061 764 Q1086 776 1093 790 L1085 823 Z" fill="url(#chkD)"/>
<path d="M992 809 L1085 823 L1095 907 Z" fill="#6aa830" opacity="0.35"/>
<linearGradient id="chkS" gradientUnits="userSpaceOnUse" x1="1180" y1="700" x2="1100" y2="900"><stop offset="0" stop-color="#9ad044"/><stop offset="0.45" stop-color="#5c9e2c"/><stop offset="1" stop-color="#86c040"/></linearGradient>
<path d="M1085 823 L1164 693 L1195 736 Q1150 790 1118 850 Q1100 880 1095 907 Z" fill="url(#chkS)"/>
<path d="M1164 693 L1209 690 L1248 733 L1195 736 Z" fill="#80c039"/>
<path d="M1200 700 L1209 690 L1248 733 L1220 735 Z" fill="#5ea52c" opacity="0.6"/>
<path d="M1195 736 L1248 733 Q1190 800 1150 860 Q1140 880 1136 905 L1095 907 Q1100 880 1118 850 Q1150 790 1195 736 Z" fill="url(#chkR)"/>
</g>
<g id="teacher">
<rect x="540.4" y="827.3" width="254.6" height="271.2" fill="#ebe6dd"/>
<rect x="548.5" y="846.4" width="236.5" height="159.4" fill="#fbfaf7"/>
<rect x="557.3" y="853.2" width="220" height="145.8" fill="#177a5c"/>
<rect x="547" y="1005.8" width="241.5" height="15" fill="#efebe4"/>
<line x1="547" y1="1013" x2="788.5" y2="1013" stroke="#d6d0c6" stroke-width="1.5"/>
<rect x="576" y="1012" width="28" height="2" fill="#b8b0a6"/><rect x="674" y="1012" width="28" height="2" fill="#b8b0a6"/>
<rect x="540.4" y="1098.5" width="254.6" height="17.5" fill="#fefefe"/>
<rect x="540.4" y="1116" width="254.6" height="27.5" fill="#d9d1c5"/>
<ellipse cx="740" cy="1131" rx="45" ry="8" fill="#cfc6b8"/>
<path d="M720 1040 L737 1040 L734 1085 L731 1125 L723 1125 L722 1085 Z" fill="#d9a26c"/>
<path d="M742 1040 L760 1040 L756 1085 L752 1128 L745 1128 L744 1085 Z" fill="#cf9862"/>
<path d="M706 1128 Q718 1121 732 1123 L733 1132 L708 1133 Z" fill="#8a5a2a"/>
<path d="M744 1124 L754 1124 L757 1136 L743 1135 Z" fill="#8a5a2a"/>
<path d="M722 942 L749 942 Q760 990 762 1041 L717 1041 Q714 990 722 942 Z" fill="#7b5d38"/>
<path d="M718 878 Q735 874 758 878 Q772 892 781 916 L778 924 L770 922 L763 905 L750 942 L722 942 Q718 920 714 905 Q713 888 718 878 Z" fill="#b0c9a0"/>
<path d="M772 920 L781 918 Q788 928 780 938 L752 950 L742 947 L748 942 L772 932 Z" fill="#d9a26c"/>
<path d="M720 920 Q705 928 692 926 L679 921 L676 925 L690 931 Q708 935 723 930 Z" fill="#d9a26c"/>
<rect x="729" y="866" width="9" height="14" fill="#d9a26c"/>
<path d="M718 838 Q722 834 735 833 L748 833.5 Q752 850 751 870 L745 875 L735 873 L728 876 L719 871 Q716 855 718 838 Z" fill="#c47a34"/>
<path d="M720 842 L737 841 Q739 858 737 872 L729 876 Q722 874 720 866 Q718 855 720 842 Z" fill="#e4ad80"/>
<path d="M722 861 L728 861" stroke="#f4e0d8" stroke-width="2"/>
</g>
<g id="student" stroke-linejoin="round" stroke-linecap="round">
<path d="M106 760 Q112 745 150 742 L240 738 Q250 740 248 752 L240 760 L130 775 Q120 800 122 850 L132 852 L132 866 L118 866 L108 852 Q100 800 106 760 Z" fill="#bdbdbd" stroke="#222" stroke-width="2.2"/>
<path d="M95.3 871.3 L336.5 827.6 L336.5 935.4 L95.3 935.4 Z" fill="#c9a18b"/>
<path d="M95.3 871.3 L336.5 827.6" stroke="#1a1a1a" stroke-width="2.5" fill="none"/>
<path d="M140 775 Q150 758 172 752 Q200 746 228 750 Q255 756 272 772 Q295 790 312 812 Q318 828 306 833 L260 838 L210 845 Q180 852 170 866 L138 866 Q128 830 140 775 Z" fill="#aed46c" stroke="#1a1a1a" stroke-width="2.5"/>
<path d="M172 753 Q195 768 228 752" fill="none" stroke="#1a1a1a" stroke-width="2.5"/>
<path d="M146 800 Q155 830 150 850 M248 790 Q255 810 250 822" fill="none" stroke="#1a1a1a" stroke-width="1.8"/>
<path d="M118 738 Q112 790 128 835 L146 835 Q140 790 146 740 Z" fill="#f6d3c6" stroke="#1a1a1a" stroke-width="2.5"/>
<path d="M118 740 Q106 715 106 690 Q108 676 113 680 L116 700 L118 675 Q121 670 124 676 L125 698 L128 673 Q132 668 135 675 L134 700 L138 680 Q143 676 144 684 L146 712 Q150 700 156 702 Q154 720 146 742 Z" fill="#f6d3c6" stroke="#1a1a1a" stroke-width="2.2"/>
<path d="M180 728 L184 758 Q200 766 220 756 L218 735 Z" fill="#f6d3c6" stroke="#1a1a1a" stroke-width="2"/>
<path d="M167 707 Q166 680 172 673 Q200 662 229 663 Q236 672 237 690 Q241 712 234 730 Q222 742 213 743 Q200 747 193 745 Q180 740 175 733 Q168 722 167 707 Z" fill="#f6d3c6" stroke="#1a1a1a" stroke-width="2.5"/>
<path d="M150.5 694 Q150 672 154.3 663.4 Q162 650 174.8 645.4 Q190 640 205.6 640.3 Q222 641 233.9 645.4 Q242 652 240.3 658.2 L232.6 666 Q226 660 218.5 660.8 Q205 663 195.4 668.5 Q183 672 177.4 681.3 Q175 692 174.8 704.4 Q173 716 171 727.5 Q166 726 162 722.4 Q154 714 150.5 694 Z" fill="#d8661f" stroke="#1a1a1a" stroke-width="2"/>
<path d="M185 652 Q200 648 215 650 M170 665 Q176 700 168 715" fill="none" stroke="#1a1a1a" stroke-width="1.5"/>
<path d="M191 695 Q198 686 205 695 M224 692 Q231 684 238 691 M206 722 Q218 730 229 720" fill="none" stroke="#1a1a1a" stroke-width="2.4"/>
<path d="M236 672 L244 671" stroke="#1a1a1a" stroke-width="3"/>
<path d="M162.4 890.2 L215.8 951.7 L278.7 915 L344.6 884.4 L331 871 L296 846 L245 842 L176 876 Z" fill="#c4221c" stroke="#1a1a1a" stroke-width="2.2"/>
<path d="M176 877 L245 842 L296.3 846.5 L331 875 Q305 878 278 904 Q248 906 219 936 Z" fill="#eef5f9" stroke="#1a1a1a" stroke-width="2"/>
<path d="M240.7 869.7 L275 903 M183 884 L220 932 M223 930 Q248 909 276 907 M280 907 Q302 886 334 882 M277 898 Q300 878 326 876" fill="none" stroke="#1a1a1a" stroke-width="1.8"/>
<path d="M205 832 Q250 822 310 823 Q320 832 312 840 Q270 845 240 850 L200 860 Q185 858 186 846 Q190 836 205 832 Z" fill="#f6d3c6" stroke="#1a1a1a" stroke-width="2.2"/>
<path d="M188 842 L205 836 M190 849 L207 843 M193 855 L210 849" stroke="#555" stroke-width="1.5"/>
</g>
<polygon points="343.7,141 415.8,119.8 408.4,95 488.6,120.4 438.2,187 431.4,164.6 358,187.6" fill="url(#g1)" stroke="#13231a" stroke-width="2.2" stroke-linejoin="miter"/>
<polygon points="862.4,89.9 938.3,103 942.6,80 1000.4,139.7 924.6,173.9 928.3,150.8 855,137.8" fill="url(#g2)" stroke="#13231a" stroke-width="2.2" stroke-linejoin="miter"/>
<polygon points="1167.6,475.9 1216.7,475.9 1216.7,551.6 1240.5,551.6 1192.9,619.5 1143.8,551.6 1167.6,551.6" fill="url(#g3)" stroke="#13231a" stroke-width="2.2" stroke-linejoin="miter"/>
<polygon points="939.3,935.5 957.3,980.3 888.3,1007.7 895.8,1030 814.9,1011.4 859.7,942.4 869,963.5" fill="url(#g4)" stroke="#13231a" stroke-width="2.2" stroke-linejoin="miter"/>
<polygon points="368.7,941.7 450.1,923 441.4,946 511.7,972.8 494.3,1017.6 422.8,989.6 414.7,1012" fill="url(#g5)" stroke="#13231a" stroke-width="2.2" stroke-linejoin="miter"/>
<polygon points="196.8,468 245.2,535.4 221.3,535.4 221.3,611.8 172.9,611.8 172.9,535.4 149.1,535.4" fill="url(#g6)" stroke="#13231a" stroke-width="2.2" stroke-linejoin="miter"/>
<g id="labels">
<text x="10.07" y="436.30" font-family="Liberation Sans" font-weight="bold" font-size="65.12" fill="#8cc63f" stroke="#8cc63f" stroke-width="2.6" stroke-linejoin="round" textLength="40.18" lengthAdjust="spacingAndGlyphs">E</text>
<text x="51.08" y="436.10" font-family="Liberation Sans" font-weight="bold" fill="#1a1a1a" font-size="33.43" textLength="287.42" lengthAdjust="spacingAndGlyphs">valuate and Revise</text>
<text x="531.05" y="309.30" font-family="Liberation Sans" font-weight="bold" font-size="65.41" fill="#8cc63f" stroke="#8cc63f" stroke-width="2.6" stroke-linejoin="round" textLength="44.89" lengthAdjust="spacingAndGlyphs">A</text>
<text x="575.69" y="308.70" font-family="Liberation Sans" font-weight="bold" fill="#1a1a1a" font-size="33.43" textLength="241.52" lengthAdjust="spacingAndGlyphs">nalyze Learners</text>
<text x="1043.39" y="453.90" font-family="Liberation Sans" font-weight="bold" font-size="68.75" fill="#8cc63f" stroke="#8cc63f" stroke-width="2.6" stroke-linejoin="round" textLength="39.63" lengthAdjust="spacingAndGlyphs">S</text>
<text x="1083.61" y="452.40" font-family="Liberation Sans" font-weight="bold" fill="#1a1a1a" font-size="33.43" textLength="227.70" lengthAdjust="spacingAndGlyphs">tate Objectives</text>
<text x="990.53" y="1041.70" font-family="Liberation Sans" font-weight="bold" font-size="68.31" fill="#8cc63f" stroke="#8cc63f" stroke-width="2.6" stroke-linejoin="round" textLength="38.74" lengthAdjust="spacingAndGlyphs">S</text>
<text x="1029.45" y="1040.40" font-family="Liberation Sans" font-weight="bold" fill="#1a1a1a" font-size="33.43" textLength="273.82" lengthAdjust="spacingAndGlyphs">elect Instructional</text>
<text x="988.77" y="1086.30" font-family="Liberation Sans" font-weight="bold" fill="#1a1a1a" font-size="33.43" textLength="313.23" lengthAdjust="spacingAndGlyphs">Methods, Media, and</text>
<text x="1075.66" y="1124.20" font-family="Liberation Sans" font-weight="bold" fill="#1a1a1a" font-size="33.43" textLength="138.65" lengthAdjust="spacingAndGlyphs">Materials</text>
<text x="72.01" y="1002.80" font-family="Liberation Sans" font-weight="bold" font-size="62.50" fill="#8cc63f" stroke="#8cc63f" stroke-width="2.6" stroke-linejoin="round" textLength="44.14" lengthAdjust="spacingAndGlyphs">R</text>
<text x="116.06" y="1002.40" font-family="Liberation Sans" font-weight="bold" fill="#1a1a1a" font-size="33.43" textLength="221.23" lengthAdjust="spacingAndGlyphs">equire Learner</text>
<text x="108.77" y="1048.00" font-family="Liberation Sans" font-weight="bold" fill="#1a1a1a" font-size="33.43" textLength="192.91" lengthAdjust="spacingAndGlyphs">Participation</text>
<text x="512.02" y="1200.10" font-family="Liberation Sans" font-weight="bold" font-size="66.28" fill="#8cc63f" stroke="#8cc63f" stroke-width="2.6" stroke-linejoin="round" textLength="43.01" lengthAdjust="spacingAndGlyphs">U</text>
<text x="555.61" y="1199.60" font-family="Liberation Sans" font-weight="bold" fill="#1a1a1a" font-size="33.43" textLength="236.20" lengthAdjust="spacingAndGlyphs">tilize Media and</text>
<text x="581.25" y="1244.60" font-family="Liberation Sans" font-weight="bold" fill="#1a1a1a" font-size="33.43" textLength="139.47" lengthAdjust="spacingAndGlyphs">Materials</text>
</g>
<rect x="641.0" y="405.3" width="187.50000000000009" height="60.6" fill="#fff" stroke="#1a1a1a" stroke-width="3.4"/>
<text x="688.8" y="443.6" font-family="Liberation Sans" font-size="27" fill="#1a1a1a" textLength="91.0" lengthAdjust="spacingAndGlyphs">Stage 1</text>
<rect x="411.8" y="762.0" width="144.70000000000002" height="59.30000000000005" fill="#fff" stroke="#1a1a1a" stroke-width="3.4"/>
<text x="424.6" y="803.7" font-family="Liberation Sans" font-size="27" fill="#1a1a1a" textLength="91.69999999999993" lengthAdjust="spacingAndGlyphs">Stage 2</text>
<rect x="347.8" y="411.7" width="144.69999999999996" height="59.90000000000001" fill="#fff" stroke="#1a1a1a" stroke-width="3.4"/>
<text x="370.3" y="446.2" font-family="Liberation Sans" font-size="27" fill="#1a1a1a" textLength="91.69999999999999" lengthAdjust="spacingAndGlyphs">Stage 3</text>
<line x1="653" y1="248" x2="709.2" y2="378.6" stroke="#1a1a1a" stroke-width="3.6"/>
<polygon points="719.2,403.6 694.6,384.8 723.9,372.5" fill="#1a1a1a"/>
<line x1="1026.8" y1="336.9" x2="867.5" y2="405.3" stroke="#1a1a1a" stroke-width="3.6"/>
<polygon points="835.3,418.5 859.4,386.8 875.5,423.8" fill="#1a1a1a"/>
<line x1="1076.1" y1="816.2" x2="786.7" y2="499.9" stroke="#1a1a1a" stroke-width="3.6"/>
<polygon points="762.9,474 801.7,486.1 771.7,513.7" fill="#1a1a1a"/>
<line x1="184.8" y1="880" x2="369.1" y2="826.1" stroke="#1a1a1a" stroke-width="3.6"/>
<polygon points="395.6,817.2 365.1,810.8 373.1,841.4" fill="#1a1a1a"/>
<line x1="592" y1="880.6" x2="484.1" y2="844.9" stroke="#1a1a1a" stroke-width="3.6"/>
<polygon points="457.4,835.9 489,830.1 479.3,859.7" fill="#1a1a1a"/>
<rect x="1012" y="537" width="3" height="3" fill="#222"/>
</svg>
</body></html>
